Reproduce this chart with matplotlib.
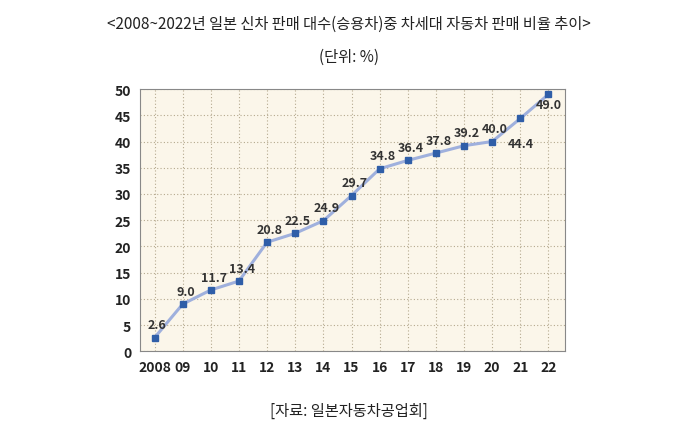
import matplotlib
matplotlib.use("Agg")
import matplotlib.pyplot as plt
from matplotlib import font_manager

years = [2008, 2009, 2010, 2011, 2012, 2013, 2014, 2015, 2016, 2017, 2018, 2019, 2020, 2021, 2022]
xlabels = ["2008", "09", "10", "11", "12", "13", "14", "15", "16", "17", "18", "19", "20", "21", "22"]
values = [2.6, 9.0, 11.7, 13.4, 20.8, 22.5, 24.9, 29.7, 34.8, 36.4, 37.8, 39.2, 40.0, 44.4, 49.0]

cjk = [f.name for f in font_manager.fontManager.ttflist if "CJK" in f.name]
kr = [n for n in cjk if "KR" in n] + cjk
plt.rcParams["font.family"] = "sans-serif"
plt.rcParams["font.sans-serif"] = (kr[:1] if kr else []) + ["DejaVu Sans"]

fig = plt.figure(figsize=(6.98, 4.35), dpi=100)
ax = fig.add_axes([0.2, 0.19, 0.61, 0.603])
ax.set_facecolor("#fbf6ea")
ax.plot(years, values, color="#9fb0dd", lw=2.2, zorder=2)
ax.plot(years, values, "s", color="#2f5ea8", ms=4, zorder=3)
for x, v in zip(years, values):
    if x == 2022:
        ax.text(x, v - 0.8, f"{v:.1f}", ha="center", va="top", fontsize=9, color="#333333", fontweight="bold")
    elif x == 2021:
        ax.text(x, v - 3.5, f"{v:.1f}", ha="center", va="top", fontsize=9, color="#333333", fontweight="bold")
    else:
        ax.text(x + 0.1, v + 1.2, f"{v:.1f}", ha="center", va="bottom", fontsize=9, color="#333333", fontweight="bold")
ax.set_xlim(2007.47, 2022.6)
ax.set_ylim(0, 50)
ax.set_yticks(range(0, 51, 5))
ax.set_xticks(years)
ax.set_xticklabels(xlabels)
ax.tick_params(length=0, labelsize=10, colors="#222222", pad=6)
for lab in ax.get_xticklabels() + ax.get_yticklabels():
    lab.set_fontweight("bold")
ax.grid(True, color="#b5a98f", ls=(0, (1, 2)), lw=0.8)
ax.set_axisbelow(True)
for s in ax.spines.values():
    s.set_color("#888888")

fig.text(0.5, 0.945, "<2008~2022년 일본 신차 판매 대수(승용차)중 차세대 자동차 판매 비율 추이>",
         ha="center", va="center", fontsize=11, color="#222222")
fig.text(0.5, 0.868, "(단위: %)", ha="center", va="center", fontsize=11, color="#222222")
fig.text(0.5, 0.055, "[자료: 일본자동차공업회]", ha="center", va="center", fontsize=11, color="#222222")
fig.savefig("out.png", dpi=100)
